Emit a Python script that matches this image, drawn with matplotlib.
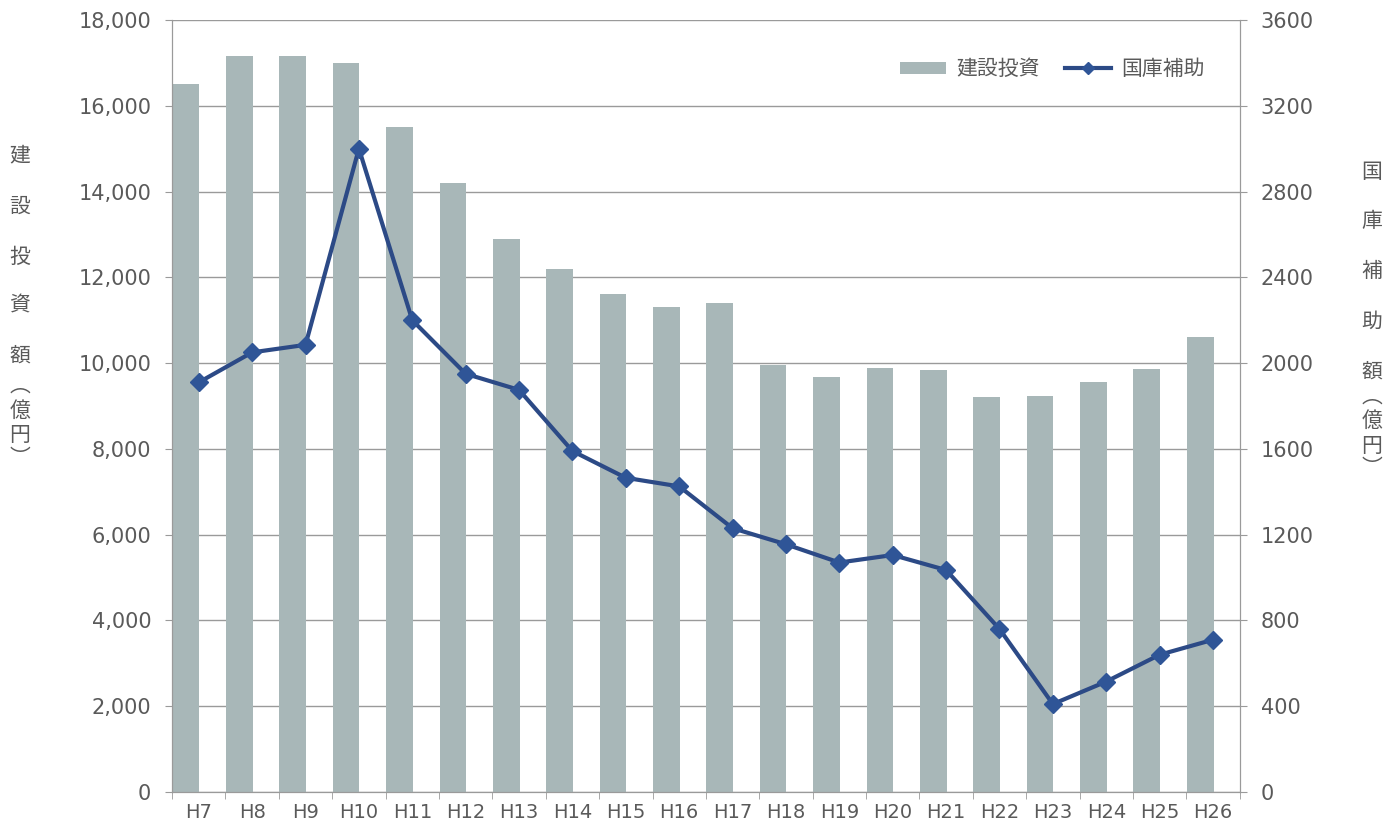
import numpy as np
import matplotlib.pyplot as plt
from matplotlib.ticker import FuncFormatter

# Latin digits in DejaVu, kanji fall back to Noto CJK
plt.rcParams['font.family'] = ['DejaVu Sans', 'Noto Sans CJK JP']

# fiscal years (Heisei)
years = ["H7", "H8", "H9", "H10", "H11", "H12", "H13", "H14", "H15", "H16",
         "H17", "H18", "H19", "H20", "H21", "H22", "H23", "H24", "H25", "H26"]
# construction investment, 100 million yen (left axis)
investment = [16500, 17150, 17150, 17000, 15500, 14200, 12900, 12200, 11600, 11300,
              11400, 9950, 9680, 9890, 9840, 9200, 9230, 9560, 9860, 10600]
# national subsidy, 100 million yen (right axis)
subsidy = [1910, 2050, 2085, 3000, 2200, 1950, 1875, 1590, 1465, 1425,
           1230, 1155, 1070, 1105, 1035, 760, 410, 515, 640, 710]

bar_color = "#a8b7b8"
line_color = "#2c4a86"
marker_color = "#2f5597"
text_color = "#5a5a5a"
axis_color = "#9a9a9a"

fig = plt.figure(figsize=(13.92, 8.22), dpi=100)
ax = fig.add_axes([0.1236, 0.0365, 0.767, 0.9392])
ax2 = ax.twinx()

x = np.arange(len(years))
ax.bar(x - 0.24, investment, width=0.5, color=bar_color, zorder=2, label="建設投資")
ax.set_xlim(-0.5, len(years) - 0.5)
ax.set_ylim(0, 18000)
ax.set_yticks(np.arange(0, 18001, 2000))
ax.yaxis.set_major_formatter(FuncFormatter(lambda v, p: f"{int(v):,}"))
ax.grid(axis="y", color=axis_color, linewidth=1.0, zorder=0)
ax.set_axisbelow(True)

ax2.plot(x, subsidy, color=line_color, linewidth=3, marker="D", markersize=9,
         markerfacecolor=marker_color, markeredgecolor=marker_color, zorder=3,
         label="国庫補助")
ax2.set_ylim(0, 3600)
ax2.set_yticks(np.arange(0, 3601, 400))

ax.set_xticks(x)
ax.set_xticklabels(years)
ax.set_xticks(np.arange(-0.5, len(years)), minor=True)
ax.tick_params(axis="x", which="major", length=0, pad=8, labelsize=14, colors=text_color)
ax.tick_params(axis="x", which="minor", length=5, color=axis_color)
ax.tick_params(axis="y", length=5, color=axis_color, labelsize=15, colors=text_color, pad=10)
ax2.tick_params(axis="y", length=5, color=axis_color, labelsize=15, colors=text_color, pad=10)

for a in (ax, ax2):
    for side in ("left", "right", "bottom"):
        a.spines[side].set_color(axis_color)
    a.spines["top"].set_visible(False)

# vertical axis titles, one character per line
cjk = ['Noto Sans CJK JP', 'DejaVu Sans']
left_chars = ["建", "設", "投", "資", "額", "︵", "億", "円", "︶"]
left_ys = [155, 207, 257, 306, 356, 386, 411, 435, 458]
for ch, yy in zip(left_chars, left_ys):
    fig.text(20 / 1392, 1 - yy / 822, ch, ha="center", va="center",
             fontsize=15, color=text_color, family=cjk)

right_chars = ["国", "庫", "補", "助", "額", "︵", "億", "円", "︶"]
right_ys = [172, 221, 271, 322, 372, 397, 421, 446, 468]
for ch, yy in zip(right_chars, right_ys):
    fig.text(1372 / 1392, 1 - yy / 822, ch, ha="center", va="center",
             fontsize=15, color=text_color, family=cjk)

h1, l1 = ax.get_legend_handles_labels()
h2, l2 = ax2.get_legend_handles_labels()
leg = ax.legend(h1 + h2, l1 + l2, loc="upper right", bbox_to_anchor=(0.985, 0.975),
                ncol=2, frameon=False, fontsize=15, handlelength=2.2,
                handleheight=0.5, columnspacing=1.2, handletextpad=0.5,
                prop={"family": cjk, "size": 15})
leg.legend_handles[1].set_markersize(6)
for t in leg.get_texts():
    t.set_color(text_color)

fig.savefig("out.png", dpi=100)
